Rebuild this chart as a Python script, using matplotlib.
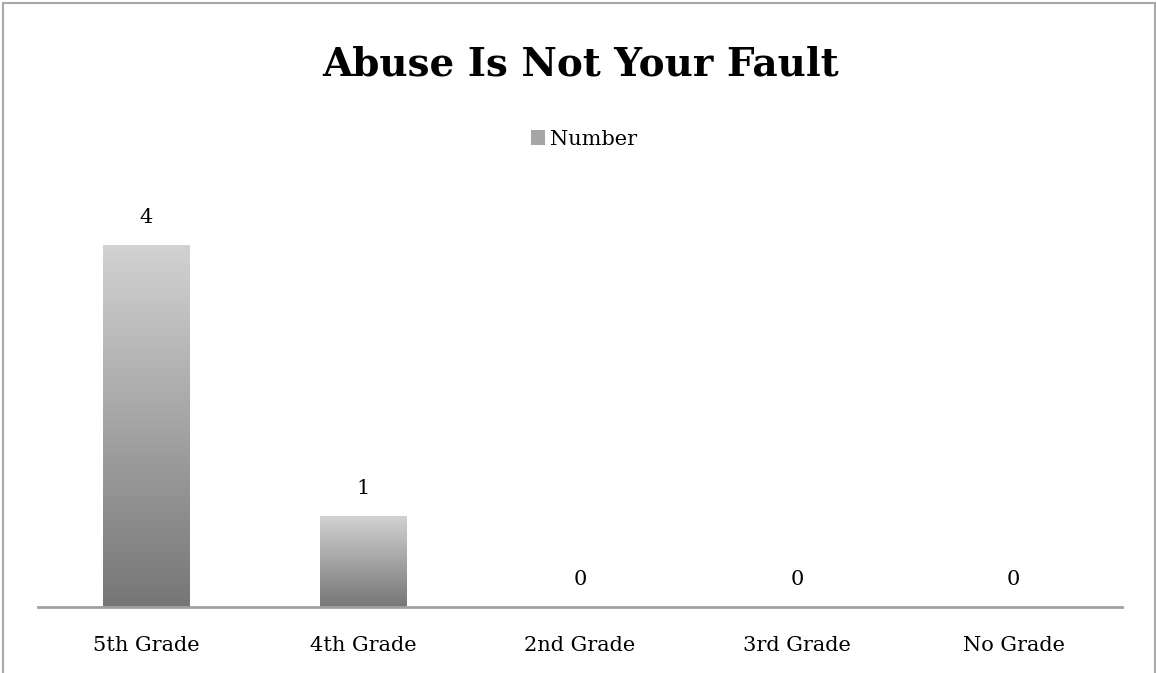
import numpy as np
import matplotlib
matplotlib.use("Agg")
import matplotlib.pyplot as plt
from matplotlib.patches import Rectangle, Patch
from matplotlib.colors import LinearSegmentedColormap

plt.rcParams.update({
    "font.family": "DejaVu Serif",
    "font.size": 15,
})

# data
categories = ["5th Grade", "4th Grade", "2nd Grade", "3rd Grade", "No Grade"]
counts = [4, 1, 0, 0, 0]
series_name = "Number"
title = "Abuse Is Not Your Fault"

fig = plt.figure(figsize=(11.56, 6.73), dpi=100)
ax = fig.add_axes([0.0329, 0.0981, 0.9377, 0.6723])

x = np.arange(len(categories))
bar_w = 0.4
bars = ax.bar(x, counts, width=bar_w, color="none", edgecolor="none", zorder=2)

# vertical gray gradient in every bar (light top, dark bottom)
cmap = LinearSegmentedColormap.from_list("grays", ["#767676", "#d2d2d2"])
grad = np.linspace(0, 1, 256).reshape(-1, 1)
for b in bars:
    h = b.get_height()
    if h <= 0:
        continue
    x0 = b.get_x()
    im = ax.imshow(grad, cmap=cmap, origin="lower", aspect="auto",
                   extent=(x0, x0 + b.get_width(), 0, h), zorder=2)
    im.set_clip_path(b)

# value labels
for xi, v in zip(x, counts):
    ax.annotate(str(v), (xi, v), xytext=(0, 16), textcoords="offset points",
                ha="center", va="baseline", fontsize=15)

ax.set_xlim(-0.5, len(categories) - 0.5)
ax.set_ylim(0, 5)
ax.set_xticks(x)
ax.set_xticklabels(categories)
ax.tick_params(axis="x", length=0, pad=21, labelsize=15)
ax.set_yticks([])
for s in ["top", "right", "left"]:
    ax.spines[s].set_visible(False)
ax.spines["bottom"].set_color("#a0a0a0")
ax.spines["bottom"].set_linewidth(2)

fig.text(0.502, 1 - 76 / 673, title, ha="center", va="baseline",
         fontsize=28, fontweight="bold")

handle = Patch(facecolor="#a6a6a6", edgecolor="none", label=series_name)
fig.legend(handles=[handle], loc="center", bbox_to_anchor=(0.505, 0.793),
           frameon=False, fontsize=15, handlelength=0.7, handleheight=0.7,
           handletextpad=0.2)

# outer chart frame (runs off the bottom of the image)
frame = Rectangle((3 / 1156, -0.2), 1152 / 1156, 1.2 - 3 / 673,
                  transform=fig.transFigure, fill=False,
                  edgecolor="#a8a8a8", linewidth=1.5, clip_on=False)
fig.add_artist(frame)

fig.savefig("out.png", dpi=100)
